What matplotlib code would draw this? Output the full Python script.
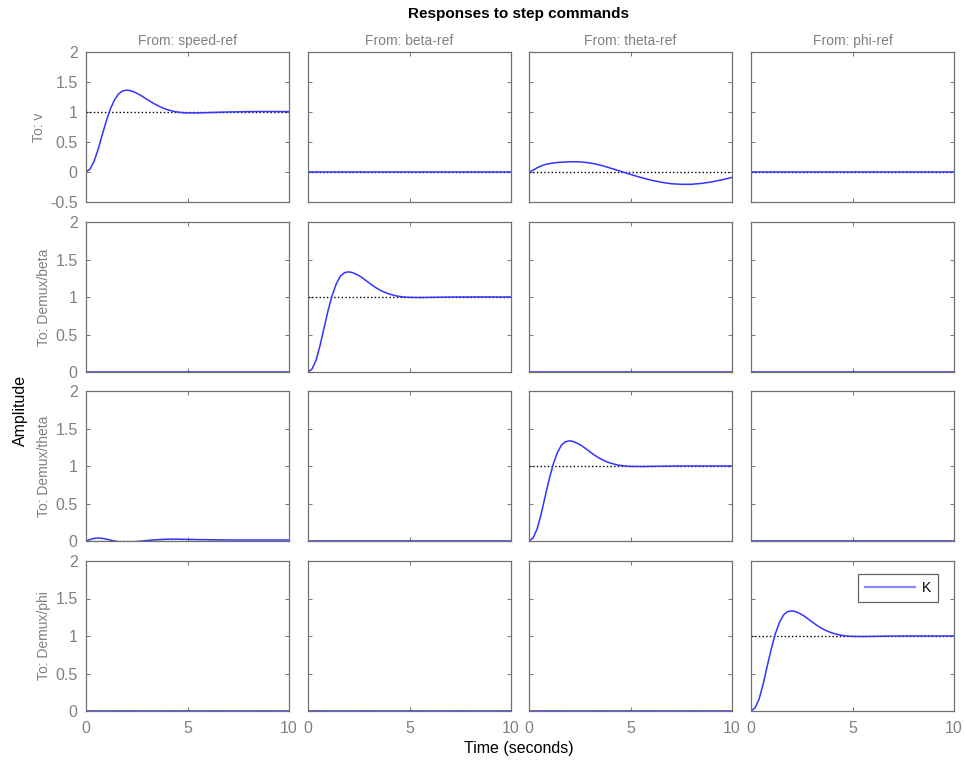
# -*- coding: utf-8 -*-
import numpy as np
import matplotlib
matplotlib.use('Agg')
import matplotlib.pyplot as plt

plt.rcParams['font.family'] = ['Liberation Sans', 'DejaVu Sans']

# inputs / outputs of the closed loop
inputs = ['speed-ref', 'beta-ref', 'theta-ref', 'phi-ref']
outputs = ['v', 'Demux/beta', 'Demux/theta', 'Demux/phi']

# step response samples (time in seconds)
t = [0, 0.2, 0.4, 0.6, 0.8, 1.0, 1.2, 1.4, 1.6, 1.8, 2.0, 2.2, 2.4, 2.6, 2.8, 3.0,
     3.2, 3.4, 3.6, 3.8, 4.0, 4.2, 4.4, 4.6, 4.8, 5.0, 5.5, 6.0, 6.5, 7.0, 7.5, 8.0,
     8.5, 9.0, 9.5, 10.0]

speed_to_v = [0, 0.05, 0.18, 0.38, 0.62, 0.85, 1.05, 1.2, 1.3, 1.35, 1.365, 1.355,
              1.33, 1.295, 1.255, 1.21, 1.17, 1.13, 1.095, 1.065, 1.04, 1.02, 1.005,
              0.995, 0.988, 0.985, 0.985, 0.99, 0.995, 1.0, 1.003, 1.006, 1.008, 1.008,
              1.007, 1.006]
diag_resp = [0, 0.04, 0.16, 0.36, 0.6, 0.83, 1.03, 1.18, 1.28, 1.325, 1.335, 1.325,
             1.3, 1.27, 1.23, 1.19, 1.15, 1.115, 1.085, 1.06, 1.04, 1.025, 1.012,
             1.004, 0.998, 0.995, 0.993, 0.995, 0.997, 0.999, 1.0, 1.0, 1.0, 1.0,
             1.0, 1.0]
theta_to_v = [0, 0.03, 0.07, 0.1, 0.125, 0.14, 0.15, 0.158, 0.163, 0.167, 0.17, 0.171,
              0.17, 0.166, 0.159, 0.15, 0.138, 0.123, 0.106, 0.087, 0.066, 0.045, 0.023,
              0.002, -0.019, -0.04, -0.09, -0.135, -0.17, -0.195, -0.205, -0.205,
              -0.19, -0.165, -0.13, -0.09]
speed_to_theta = [0, 0.02, 0.035, 0.04, 0.035, 0.025, 0.012, 0.0, -0.01, -0.015,
                  -0.016, -0.014, -0.01, -0.005, 0.0, 0.006, 0.011, 0.015, 0.019, 0.022,
                  0.024, 0.025, 0.025, 0.024, 0.023, 0.022, 0.019, 0.017, 0.015, 0.014,
                  0.013, 0.013, 0.013, 0.013, 0.013, 0.013]
zero_resp = [0.0] * len(t)

responses = {
    (0, 0): speed_to_v, (0, 2): theta_to_v,
    (1, 1): diag_resp, (2, 2): diag_resp, (3, 3): diag_resp,
    (2, 0): speed_to_theta,
}
final_values = {(0, 0): 1, (1, 1): 1, (2, 2): 1, (3, 3): 1}

fig = plt.figure(figsize=(9.65, 7.67), dpi=100)
W, H = 965.0, 767.0
col_left = [86, 308, 529, 751]
row_top = [52, 222, 391, 561]
ax_w, ax_h = 203, 150
gray = '#808080'
blue = (0.2, 0.2, 1.0)

for r in range(4):
    for c in range(4):
        ax = fig.add_axes([col_left[c] / W, 1 - (row_top[r] + ax_h) / H, ax_w / W, ax_h / H])
        y = responses.get((r, c), zero_resp)
        ax.plot([0, 10], [final_values.get((r, c), 0)] * 2, color='k', ls=':', lw=1)
        line, = ax.plot(t, y, color=blue, lw=1.1, label='K')
        ax.set_xlim(0, 10)
        if r == 0:
            ax.set_ylim(-0.5, 2)
            ax.set_yticks([-0.5, 0, 0.5, 1, 1.5, 2])
            ax.set_yticklabels(['-0.5', '0', '0.5', '1', '1.5', '2'])
            ax.set_title('From: ' + inputs[c], color=gray, fontsize=10, pad=5)
        else:
            ax.set_ylim(0, 2)
            ax.set_yticks([0, 0.5, 1, 1.5, 2])
            ax.set_yticklabels(['0', '0.5', '1', '1.5', '2'])
        ax.set_xticks([0, 5, 10])
        ax.set_xticklabels(['0', '5', '10'])
        ax.tick_params(direction='in', length=3, width=0.6, colors='#606060',
                       labelcolor=gray, labelsize=11.5, top=True, right=True)
        ax.tick_params(axis='x', pad=7)
        ax.tick_params(axis='y', pad=6)
        if c != 0:
            ax.set_yticklabels([])
        else:
            ax.set_ylabel('To: ' + outputs[r], color=gray, fontsize=10, labelpad=3)
        if r != 3:
            ax.set_xticklabels([])
        for s in ax.spines.values():
            s.set_color('#707070')
            s.set_linewidth(0.9)
        if (r, c) == (3, 3):
            leg = ax.legend(handles=[line], loc='upper right', bbox_to_anchor=(0.921, 0.913),
                            borderaxespad=0, fancybox=False, fontsize=10, handlelength=3.6,
                            borderpad=0.5, handletextpad=0.5)
            leg.get_frame().set_edgecolor('#404040')
            leg.get_frame().set_linewidth(0.9)
            leg.get_lines()[0].set_color((0.55, 0.55, 1.0))
            leg.get_lines()[0].set_linewidth(1.6)

fig.text(519 / W, 1 - 14 / H, 'Responses to step commands', ha='center', va='center',
         fontsize=11, fontweight='bold')
fig.text(20 / W, 1 - 410 / H, 'Amplitude', ha='center', va='center', rotation=90, fontsize=11.5)
fig.text(519 / W, 1 - 749 / H, 'Time (seconds)', ha='center', va='center', fontsize=11.5)

plt.savefig('out.png', dpi=100)
